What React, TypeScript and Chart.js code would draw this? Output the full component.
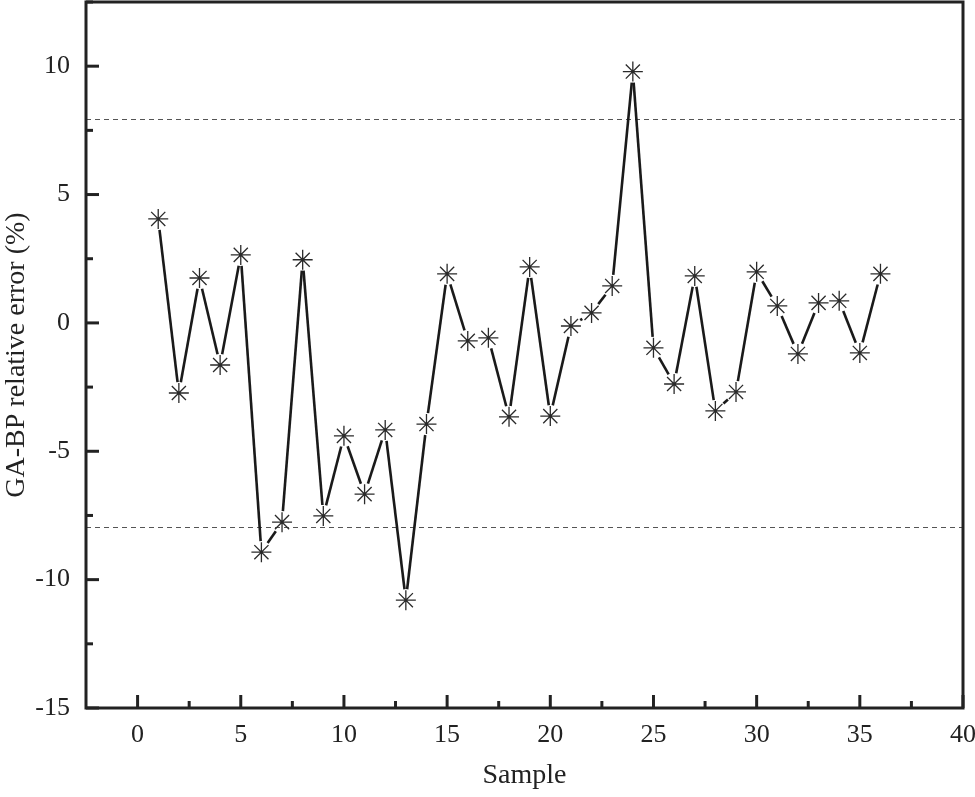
import React, { useEffect, useRef } from "react";
import { Chart, registerables } from "chart.js";

Chart.register(...registerables);

const samples = [1, 2, 3, 4, 5, 6, 7, 8, 9, 10, 11, 12, 13, 14, 15, 16, 17, 18, 19, 20, 21, 22, 23, 24, 25, 26, 27, 28, 29, 30, 31, 32, 33, 34, 35, 36];
const errors = [4.05, -2.73, 1.75, -1.64, 2.65, -8.93, -7.76, 2.46, -7.52, -4.4, -6.67, -4.17, -10.8, -3.94, 1.91, -0.7, -0.58, -3.66, 2.18, -3.63, -0.12, 0.39, 1.44, 9.79, -0.97, -2.38, 1.83, -3.43, -2.69, 1.99, 0.66, -1.21, 0.78, 0.86, -1.17, 1.91];
const thresholds = [7.94, -7.96];
const xMajorTicks = [0, 5, 10, 15, 20, 25, 30, 35, 40];
const xMinorTicks = [2.5, 7.5, 12.5, 17.5, 22.5, 27.5, 32.5, 37.5];
const yMajorTicks = [-15, -10, -5, 0, 5, 10];
const yMinorTicks = [-12.5, -7.5, -2.5, 2.5, 7.5, 12.5];
const xTitle = "Sample";
const yTitle = "GA-BP relative error (%)";

const FONT = "'Liberation Serif', 'Times New Roman', serif";
const AXIS = "#222222";

const framePlugin = {
  id: "frameAndExtras",
  beforeDatasetsDraw(chart: any) {
    const { ctx, chartArea, scales } = chart;
    const ys = scales.y;
    ctx.save();
    ctx.strokeStyle = "#555555";
    ctx.lineWidth = 1;
    ctx.setLineDash([5, 4]);
    thresholds.forEach((t) => {
      const y = Math.round(ys.getPixelForValue(t)) + 0.5;
      ctx.beginPath();
      ctx.moveTo(chartArea.left, y);
      ctx.lineTo(chartArea.right, y);
      ctx.stroke();
    });
    ctx.setLineDash([]);
    const meta = chart.getDatasetMeta(0);
    const pts = meta.data;
    const gap = 11;
    ctx.strokeStyle = "#1a1a1a";
    ctx.lineWidth = 2.6;
    ctx.lineCap = "butt";
    for (let i = 0; i < pts.length - 1; i++) {
      const a = pts[i];
      const b = pts[i + 1];
      const dx = b.x - a.x;
      const dy = b.y - a.y;
      const len = Math.hypot(dx, dy);
      if (len <= 2 * gap) continue;
      const ux = dx / len;
      const uy = dy / len;
      ctx.beginPath();
      ctx.moveTo(a.x + ux * gap, a.y + uy * gap);
      ctx.lineTo(b.x - ux * gap, b.y - uy * gap);
      ctx.stroke();
    }
    ctx.restore();
  },
  afterDraw(chart: any) {
    const { ctx, chartArea, scales } = chart;
    const xs = scales.x;
    const ys = scales.y;
    ctx.save();
    ctx.strokeStyle = AXIS;
    ctx.lineWidth = 3;
    ctx.strokeRect(chartArea.left, chartArea.top, chartArea.right - chartArea.left, chartArea.bottom - chartArea.top);
    const tick = (x0: number, y0: number, x1: number, y1: number) => {
      ctx.beginPath();
      ctx.moveTo(x0, y0);
      ctx.lineTo(x1, y1);
      ctx.stroke();
    };
    xMajorTicks.forEach((v) => {
      const x = xs.getPixelForValue(v);
      tick(x, chartArea.bottom, x, chartArea.bottom - 13);
    });
    xMinorTicks.forEach((v) => {
      const x = xs.getPixelForValue(v);
      tick(x, chartArea.bottom, x, chartArea.bottom - 7);
    });
    yMajorTicks.forEach((v) => {
      const y = ys.getPixelForValue(v);
      tick(chartArea.left, y, chartArea.left + 13, y);
    });
    yMinorTicks.forEach((v) => {
      const y = ys.getPixelForValue(v);
      tick(chartArea.left, y, chartArea.left + 7, y);
    });
    ctx.restore();
  },
};

export default function App() {
  const ref = useRef<HTMLCanvasElement | null>(null);
  useEffect(() => {
    if (!ref.current) return;
    const chart = new Chart(ref.current, {
      type: "scatter",
      data: {
        datasets: [
          {
            data: samples.map((s, i) => ({ x: s, y: errors[i] })),
            showLine: false,
            pointStyle: "star",
            pointRadius: 10,
            pointHoverRadius: 10,
            borderColor: "#2a2a2a",
            backgroundColor: "#2a2a2a",
            pointBorderWidth: 1.3,
          },
        ],
      },
      options: {
        animation: false,
        responsive: false,
        devicePixelRatio: 1,
        layout: { autoPadding: false, padding: { left: 0, top: 2, right: 12, bottom: 0 } },
        plugins: { legend: { display: false }, tooltip: { enabled: false } },
        scales: {
          x: {
            type: "linear",
            min: -2.5,
            max: 40,
            afterFit: (s: any) => {
              s.height = 89;
              s.paddingLeft = 0;
              s.paddingRight = 0;
            },
            grid: { display: false, drawTicks: false },
            border: { display: false },
            ticks: {
              stepSize: 2.5,
              autoSkip: false,
              maxRotation: 0,
              padding: 12,
              color: "#222",
              font: { family: FONT, size: 26 },
              callback: (v: any) => (Number(v) % 5 === 0 ? String(v) : ""),
            },
            title: {
              display: true,
              text: xTitle,
              color: "#222",
              font: { family: FONT, size: 28 },
              padding: { top: 0, bottom: 5 },
            },
          },
          y: {
            type: "linear",
            min: -15,
            max: 12.5,
            afterFit: (s: any) => {
              s.width = 86;
              s.paddingTop = 0;
              s.paddingBottom = 0;
            },
            grid: { display: false, drawTicks: false },
            border: { display: false },
            ticks: {
              stepSize: 2.5,
              autoSkip: false,
              padding: 16,
              color: "#222",
              font: { family: FONT, size: 26 },
              callback: (v: any) => (Number(v) % 5 === 0 ? String(v) : ""),
            },
            title: {
              display: true,
              text: yTitle,
              color: "#222",
              font: { family: FONT, size: 28 },
              padding: { top: 0, bottom: 0 },
            },
          },
        },
      },
      plugins: [framePlugin],
    });
    return () => chart.destroy();
  }, []);
  return (
    <div style={{ position: "fixed", left: 0, top: 0, width: 975, height: 797, background: "#fff" }}>
      <canvas ref={ref} width={975} height={797} style={{ width: 975, height: 797 }} />
    </div>
  );
}
